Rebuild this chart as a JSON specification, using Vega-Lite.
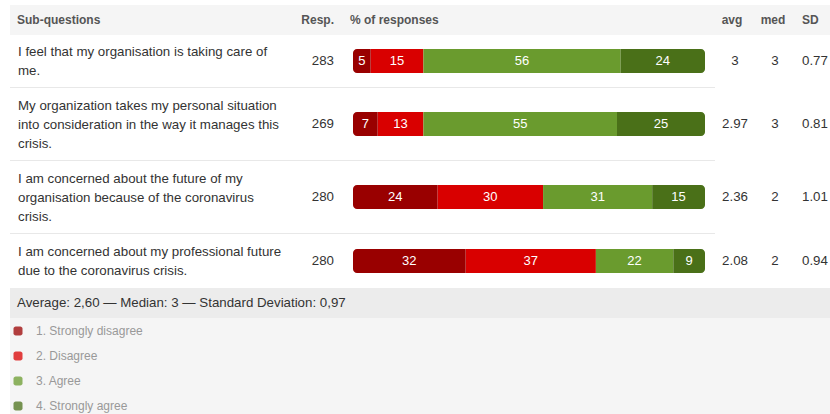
{
  "$schema": "https://vega.github.io/schema/vega-lite/v6.json",
  "padding": {"left": 10, "top": 5, "right": 0, "bottom": 0},
  "background": "white",
  "spacing": 0,
  "config": {
    "view": {"stroke": null},
    "concat": {"spacing": 0},
    "text": {"font": "Liberation Sans"},
    "legend": {"labelFont": "Liberation Sans"}
  },
  "datasets": {
    "qs": [
      {"id": 1, "q": "I feel that my organisation is taking care of\nme.", "resp": 283, "avg": 3, "med": 3, "sd": 0.77},
      {"id": 2, "q": "My organization takes my personal situation\ninto consideration in the way it manages this\ncrisis.", "resp": 269, "avg": 2.97, "med": 3, "sd": 0.81},
      {"id": 3, "q": "I am concerned about the future of my\norganisation because of the coronavirus\ncrisis.", "resp": 280, "avg": 2.36, "med": 2, "sd": 1.01},
      {"id": 4, "q": "I am concerned about my professional future\ndue to the coronavirus crisis.", "resp": 280, "avg": 2.08, "med": 2, "sd": 0.94}
    ],
    "parts": [
      {"id": 1, "cat": "1. Strongly disagree", "v": 5},
      {"id": 1, "cat": "2. Disagree", "v": 15},
      {"id": 1, "cat": "3. Agree", "v": 56},
      {"id": 1, "cat": "4. Strongly agree", "v": 24},
      {"id": 2, "cat": "1. Strongly disagree", "v": 7},
      {"id": 2, "cat": "2. Disagree", "v": 13},
      {"id": 2, "cat": "3. Agree", "v": 55},
      {"id": 2, "cat": "4. Strongly agree", "v": 25},
      {"id": 3, "cat": "1. Strongly disagree", "v": 24},
      {"id": 3, "cat": "2. Disagree", "v": 30},
      {"id": 3, "cat": "3. Agree", "v": 31},
      {"id": 3, "cat": "4. Strongly agree", "v": 15},
      {"id": 4, "cat": "1. Strongly disagree", "v": 32},
      {"id": 4, "cat": "2. Disagree", "v": 37},
      {"id": 4, "cat": "3. Agree", "v": 22},
      {"id": 4, "cat": "4. Strongly agree", "v": 9}
    ]
  },
  "vconcat": [
    {"spacing": 0, "hconcat": [
      {"width": 280, "height": 30, "view": {"fill": "#f5f5f5"}, "data": {"values": [{"h": "Sub-questions"}]},
       "mark": {"type": "text", "align": "left", "dx": 7, "fontSize": 12, "fontWeight": "bold", "color": "#555555"},
       "encoding": {"x": {"field": "h", "type": "nominal", "axis": null, "bandPosition": 0, "scale": {"type": "band", "paddingInner": 0, "paddingOuter": 0}}, "text": {"field": "h"}}},
      {"width": 53, "height": 30, "view": {"fill": "#f5f5f5"}, "data": {"values": [{"h": "Resp."}]},
       "mark": {"type": "text", "align": "right", "dx": -9, "fontSize": 12, "fontWeight": "bold", "color": "#555555"},
       "encoding": {"x": {"field": "h", "type": "nominal", "axis": null, "bandPosition": 1, "scale": {"type": "band", "paddingInner": 0, "paddingOuter": 0}}, "text": {"field": "h"}}},
      {"width": 372, "height": 30, "view": {"fill": "#f5f5f5"}, "data": {"values": [{"h": "% of responses"}]},
       "mark": {"type": "text", "align": "left", "dx": 7, "fontSize": 12, "fontWeight": "bold", "color": "#555555"},
       "encoding": {"x": {"field": "h", "type": "nominal", "axis": null, "bandPosition": 0, "scale": {"type": "band", "paddingInner": 0, "paddingOuter": 0}}, "text": {"field": "h"}}},
      {"width": 40, "height": 30, "view": {"fill": "#f5f5f5"}, "data": {"values": [{"h": "avg"}]},
       "mark": {"type": "text", "dx": -3, "fontSize": 12, "fontWeight": "bold", "color": "#555555"},
       "encoding": {"text": {"field": "h"}}},
      {"width": 40, "height": 30, "view": {"fill": "#f5f5f5"}, "data": {"values": [{"h": "med"}]},
       "mark": {"type": "text", "dx": -2, "fontSize": 12, "fontWeight": "bold", "color": "#555555"},
       "encoding": {"text": {"field": "h"}}},
      {"width": 35, "height": 30, "view": {"fill": "#f5f5f5"}, "data": {"values": [{"h": "SD"}]},
       "mark": {"type": "text", "align": "left", "dx": 7, "fontSize": 12, "fontWeight": "bold", "color": "#555555"},
       "encoding": {"x": {"field": "h", "type": "nominal", "axis": null, "bandPosition": 0, "scale": {"type": "band", "paddingInner": 0, "paddingOuter": 0}}, "text": {"field": "h"}}}
    ]},
    {"spacing": 0, "hconcat": [
      {"width": 280, "height": 52, "data": {"name": "qs"}, "transform": [{"filter": "datum.id == 1"}],
       "mark": {"type": "text", "clip": true, "align": "left", "dx": 8, "dy": -9, "fontSize": 13.3, "lineHeight": 19, "color": "#333333", "lineBreak": "\n"},
       "encoding": {"x": {"field": "q", "type": "nominal", "axis": null, "bandPosition": 0, "scale": {"type": "band", "paddingInner": 0, "paddingOuter": 0}}, "text": {"field": "q"}}},
      {"width": 53, "height": 52, "data": {"name": "qs"}, "transform": [{"filter": "datum.id == 1"}],
       "mark": {"type": "text", "align": "right", "dx": -9, "fontSize": 13.3, "color": "#333333"},
       "encoding": {"x": {"field": "resp", "type": "nominal", "axis": null, "bandPosition": 1, "scale": {"type": "band", "paddingInner": 0, "paddingOuter": 0}}, "text": {"field": "resp", "type": "nominal"}}},
      {"width": 372, "height": 52, "data": {"name": "parts"},
       "transform": [{"filter": "datum.id == 1"}, {"stack": "v", "groupby": ["id"], "sort": [{"field": "cat", "order": "ascending"}], "as": ["v0", "v1"]}],
       "encoding": {
         "y": {"field": "id", "type": "nominal", "axis": null, "scale": {"type": "band", "paddingInner": 0, "paddingOuter": 0}},
         "color": {"field": "cat", "type": "nominal", "scale": {"domain": ["1. Strongly disagree", "2. Disagree", "3. Agree", "4. Strongly agree"], "range": ["#990000", "#d90000", "#6a9b2e", "#4a7018"]},
                   "legend": {"title": null, "orient": "none", "legendX": 2, "legendY": 320, "padding": 0, "symbolType": "M-1,-0.5A0.5,0.5,0,0,1,-0.5,-1L0.5,-1A0.5,0.5,0,0,1,1,-0.5L1,0.5A0.5,0.5,0,0,1,0.5,1L-0.5,1A0.5,0.5,0,0,1,-1,0.5Z", "symbolSize": 81, "symbolOpacity": 0.75, "symbolStrokeWidth": 0, "labelColor": "#999999", "labelFontSize": 12, "labelOffset": 12, "rowPadding": 13}}},
       "layer": [
         {"transform": [{"filter": "datum.cat == '2. Disagree' || datum.cat == '3. Agree'"}],
          "mark": {"type": "bar", "height": 24},
          "encoding": {"x": {"field": "v0", "type": "quantitative", "axis": null, "scale": {"domain": [0, 100], "nice": false, "padding": 10}}, "x2": {"field": "v1"}}},
         {"transform": [{"filter": "datum.cat == '1. Strongly disagree'"}],
          "mark": {"type": "bar", "height": 24, "cornerRadiusTopLeft": 4, "cornerRadiusBottomLeft": 4},
          "encoding": {"x": {"field": "v0", "type": "quantitative"}, "x2": {"field": "v1"}}},
         {"transform": [{"filter": "datum.cat == '4. Strongly agree'"}],
          "mark": {"type": "bar", "height": 24, "cornerRadiusTopRight": 4, "cornerRadiusBottomRight": 4},
          "encoding": {"x": {"field": "v0", "type": "quantitative"}, "x2": {"field": "v1"}}},
         {"mark": {"type": "text", "fontSize": 13},
          "encoding": {
            "x": {"field": "v", "type": "quantitative", "stack": "zero", "bandPosition": 0.5},
            "detail": {"field": "cat"},
            "order": {"field": "cat"},
            "color": {"value": "#ffffff"},
            "text": {"field": "v", "type": "nominal"}}}
       ]},
      {"width": 40, "height": 52, "data": {"name": "qs"}, "transform": [{"filter": "datum.id == 1"}],
       "mark": {"type": "text", "fontSize": 13.3, "color": "#333333"}, "encoding": {"text": {"field": "avg", "type": "nominal"}}},
      {"width": 40, "height": 52, "data": {"name": "qs"}, "transform": [{"filter": "datum.id == 1"}],
       "mark": {"type": "text", "fontSize": 13.3, "color": "#333333"}, "encoding": {"text": {"field": "med", "type": "nominal"}}},
      {"width": 35, "height": 52, "data": {"name": "qs"}, "transform": [{"filter": "datum.id == 1"}],
       "mark": {"type": "text", "align": "left", "dx": 7, "fontSize": 13.3, "color": "#333333"},
       "encoding": {"x": {"field": "sd", "type": "nominal", "axis": null, "bandPosition": 0, "scale": {"type": "band", "paddingInner": 0, "paddingOuter": 0}}, "text": {"field": "sd", "type": "nominal"}}}
    ]},
    {"width": 705, "height": 1, "view": {"fill": "#e8e8e8"}, "data": {"values": [{}]}, "mark": {"type": "text", "fontSize": 0}, "encoding": {"text": {"value": ""}}},
    {"spacing": 0, "hconcat": [
      {"width": 280, "height": 72, "data": {"name": "qs"}, "transform": [{"filter": "datum.id == 2"}],
       "mark": {"type": "text", "clip": true, "align": "left", "dx": 8, "dy": -18.5, "fontSize": 13.3, "lineHeight": 19, "color": "#333333", "lineBreak": "\n"},
       "encoding": {"x": {"field": "q", "type": "nominal", "axis": null, "bandPosition": 0, "scale": {"type": "band", "paddingInner": 0, "paddingOuter": 0}}, "text": {"field": "q"}}},
      {"width": 53, "height": 72, "data": {"name": "qs"}, "transform": [{"filter": "datum.id == 2"}],
       "mark": {"type": "text", "align": "right", "dx": -9, "fontSize": 13.3, "color": "#333333"},
       "encoding": {"x": {"field": "resp", "type": "nominal", "axis": null, "bandPosition": 1, "scale": {"type": "band", "paddingInner": 0, "paddingOuter": 0}}, "text": {"field": "resp", "type": "nominal"}}},
      {"width": 372, "height": 72, "data": {"name": "parts"},
       "transform": [{"filter": "datum.id == 2"}, {"stack": "v", "groupby": ["id"], "sort": [{"field": "cat", "order": "ascending"}], "as": ["v0", "v1"]}],
       "encoding": {
         "y": {"field": "id", "type": "nominal", "axis": null, "scale": {"type": "band", "paddingInner": 0, "paddingOuter": 0}},
         "color": {"field": "cat", "type": "nominal", "scale": {"domain": ["1. Strongly disagree", "2. Disagree", "3. Agree", "4. Strongly agree"], "range": ["#990000", "#d90000", "#6a9b2e", "#4a7018"]},
                   "legend": {"title": null, "orient": "none", "legendX": 2, "legendY": 320, "padding": 0, "symbolType": "M-1,-0.5A0.5,0.5,0,0,1,-0.5,-1L0.5,-1A0.5,0.5,0,0,1,1,-0.5L1,0.5A0.5,0.5,0,0,1,0.5,1L-0.5,1A0.5,0.5,0,0,1,-1,0.5Z", "symbolSize": 81, "symbolOpacity": 0.75, "symbolStrokeWidth": 0, "labelColor": "#999999", "labelFontSize": 12, "labelOffset": 12, "rowPadding": 13}}},
       "layer": [
         {"transform": [{"filter": "datum.cat == '2. Disagree' || datum.cat == '3. Agree'"}],
          "mark": {"type": "bar", "height": 24},
          "encoding": {"x": {"field": "v0", "type": "quantitative", "axis": null, "scale": {"domain": [0, 100], "nice": false, "padding": 10}}, "x2": {"field": "v1"}}},
         {"transform": [{"filter": "datum.cat == '1. Strongly disagree'"}],
          "mark": {"type": "bar", "height": 24, "cornerRadiusTopLeft": 4, "cornerRadiusBottomLeft": 4},
          "encoding": {"x": {"field": "v0", "type": "quantitative"}, "x2": {"field": "v1"}}},
         {"transform": [{"filter": "datum.cat == '4. Strongly agree'"}],
          "mark": {"type": "bar", "height": 24, "cornerRadiusTopRight": 4, "cornerRadiusBottomRight": 4},
          "encoding": {"x": {"field": "v0", "type": "quantitative"}, "x2": {"field": "v1"}}},
         {"mark": {"type": "text", "fontSize": 13},
          "encoding": {
            "x": {"field": "v", "type": "quantitative", "stack": "zero", "bandPosition": 0.5},
            "detail": {"field": "cat"},
            "order": {"field": "cat"},
            "color": {"value": "#ffffff"},
            "text": {"field": "v", "type": "nominal"}}}
       ]},
      {"width": 40, "height": 72, "data": {"name": "qs"}, "transform": [{"filter": "datum.id == 2"}],
       "mark": {"type": "text", "fontSize": 13.3, "color": "#333333"}, "encoding": {"text": {"field": "avg", "type": "nominal"}}},
      {"width": 40, "height": 72, "data": {"name": "qs"}, "transform": [{"filter": "datum.id == 2"}],
       "mark": {"type": "text", "fontSize": 13.3, "color": "#333333"}, "encoding": {"text": {"field": "med", "type": "nominal"}}},
      {"width": 35, "height": 72, "data": {"name": "qs"}, "transform": [{"filter": "datum.id == 2"}],
       "mark": {"type": "text", "align": "left", "dx": 7, "fontSize": 13.3, "color": "#333333"},
       "encoding": {"x": {"field": "sd", "type": "nominal", "axis": null, "bandPosition": 0, "scale": {"type": "band", "paddingInner": 0, "paddingOuter": 0}}, "text": {"field": "sd", "type": "nominal"}}}
    ]},
    {"width": 705, "height": 1, "view": {"fill": "#e8e8e8"}, "data": {"values": [{}]}, "mark": {"type": "text", "fontSize": 0}, "encoding": {"text": {"value": ""}}},
    {"spacing": 0, "hconcat": [
      {"width": 280, "height": 72, "data": {"name": "qs"}, "transform": [{"filter": "datum.id == 3"}],
       "mark": {"type": "text", "clip": true, "align": "left", "dx": 8, "dy": -18.5, "fontSize": 13.3, "lineHeight": 19, "color": "#333333", "lineBreak": "\n"},
       "encoding": {"x": {"field": "q", "type": "nominal", "axis": null, "bandPosition": 0, "scale": {"type": "band", "paddingInner": 0, "paddingOuter": 0}}, "text": {"field": "q"}}},
      {"width": 53, "height": 72, "data": {"name": "qs"}, "transform": [{"filter": "datum.id == 3"}],
       "mark": {"type": "text", "align": "right", "dx": -9, "fontSize": 13.3, "color": "#333333"},
       "encoding": {"x": {"field": "resp", "type": "nominal", "axis": null, "bandPosition": 1, "scale": {"type": "band", "paddingInner": 0, "paddingOuter": 0}}, "text": {"field": "resp", "type": "nominal"}}},
      {"width": 372, "height": 72, "data": {"name": "parts"},
       "transform": [{"filter": "datum.id == 3"}, {"stack": "v", "groupby": ["id"], "sort": [{"field": "cat", "order": "ascending"}], "as": ["v0", "v1"]}],
       "encoding": {
         "y": {"field": "id", "type": "nominal", "axis": null, "scale": {"type": "band", "paddingInner": 0, "paddingOuter": 0}},
         "color": {"field": "cat", "type": "nominal", "scale": {"domain": ["1. Strongly disagree", "2. Disagree", "3. Agree", "4. Strongly agree"], "range": ["#990000", "#d90000", "#6a9b2e", "#4a7018"]},
                   "legend": {"title": null, "orient": "none", "legendX": 2, "legendY": 320, "padding": 0, "symbolType": "M-1,-0.5A0.5,0.5,0,0,1,-0.5,-1L0.5,-1A0.5,0.5,0,0,1,1,-0.5L1,0.5A0.5,0.5,0,0,1,0.5,1L-0.5,1A0.5,0.5,0,0,1,-1,0.5Z", "symbolSize": 81, "symbolOpacity": 0.75, "symbolStrokeWidth": 0, "labelColor": "#999999", "labelFontSize": 12, "labelOffset": 12, "rowPadding": 13}}},
       "layer": [
         {"transform": [{"filter": "datum.cat == '2. Disagree' || datum.cat == '3. Agree'"}],
          "mark": {"type": "bar", "height": 24},
          "encoding": {"x": {"field": "v0", "type": "quantitative", "axis": null, "scale": {"domain": [0, 100], "nice": false, "padding": 10}}, "x2": {"field": "v1"}}},
         {"transform": [{"filter": "datum.cat == '1. Strongly disagree'"}],
          "mark": {"type": "bar", "height": 24, "cornerRadiusTopLeft": 4, "cornerRadiusBottomLeft": 4},
          "encoding": {"x": {"field": "v0", "type": "quantitative"}, "x2": {"field": "v1"}}},
         {"transform": [{"filter": "datum.cat == '4. Strongly agree'"}],
          "mark": {"type": "bar", "height": 24, "cornerRadiusTopRight": 4, "cornerRadiusBottomRight": 4},
          "encoding": {"x": {"field": "v0", "type": "quantitative"}, "x2": {"field": "v1"}}},
         {"mark": {"type": "text", "fontSize": 13},
          "encoding": {
            "x": {"field": "v", "type": "quantitative", "stack": "zero", "bandPosition": 0.5},
            "detail": {"field": "cat"},
            "order": {"field": "cat"},
            "color": {"value": "#ffffff"},
            "text": {"field": "v", "type": "nominal"}}}
       ]},
      {"width": 40, "height": 72, "data": {"name": "qs"}, "transform": [{"filter": "datum.id == 3"}],
       "mark": {"type": "text", "fontSize": 13.3, "color": "#333333"}, "encoding": {"text": {"field": "avg", "type": "nominal"}}},
      {"width": 40, "height": 72, "data": {"name": "qs"}, "transform": [{"filter": "datum.id == 3"}],
       "mark": {"type": "text", "fontSize": 13.3, "color": "#333333"}, "encoding": {"text": {"field": "med", "type": "nominal"}}},
      {"width": 35, "height": 72, "data": {"name": "qs"}, "transform": [{"filter": "datum.id == 3"}],
       "mark": {"type": "text", "align": "left", "dx": 7, "fontSize": 13.3, "color": "#333333"},
       "encoding": {"x": {"field": "sd", "type": "nominal", "axis": null, "bandPosition": 0, "scale": {"type": "band", "paddingInner": 0, "paddingOuter": 0}}, "text": {"field": "sd", "type": "nominal"}}}
    ]},
    {"width": 705, "height": 1, "view": {"fill": "#e8e8e8"}, "data": {"values": [{}]}, "mark": {"type": "text", "fontSize": 0}, "encoding": {"text": {"value": ""}}},
    {"spacing": 0, "hconcat": [
      {"width": 280, "height": 54, "data": {"name": "qs"}, "transform": [{"filter": "datum.id == 4"}],
       "mark": {"type": "text", "clip": true, "align": "left", "dx": 8, "dy": -9, "fontSize": 13.3, "lineHeight": 19, "color": "#333333", "lineBreak": "\n"},
       "encoding": {"x": {"field": "q", "type": "nominal", "axis": null, "bandPosition": 0, "scale": {"type": "band", "paddingInner": 0, "paddingOuter": 0}}, "text": {"field": "q"}}},
      {"width": 53, "height": 54, "data": {"name": "qs"}, "transform": [{"filter": "datum.id == 4"}],
       "mark": {"type": "text", "align": "right", "dx": -9, "fontSize": 13.3, "color": "#333333"},
       "encoding": {"x": {"field": "resp", "type": "nominal", "axis": null, "bandPosition": 1, "scale": {"type": "band", "paddingInner": 0, "paddingOuter": 0}}, "text": {"field": "resp", "type": "nominal"}}},
      {"width": 372, "height": 54, "data": {"name": "parts"},
       "transform": [{"filter": "datum.id == 4"}, {"stack": "v", "groupby": ["id"], "sort": [{"field": "cat", "order": "ascending"}], "as": ["v0", "v1"]}],
       "encoding": {
         "y": {"field": "id", "type": "nominal", "axis": null, "scale": {"type": "band", "paddingInner": 0, "paddingOuter": 0}},
         "color": {"field": "cat", "type": "nominal", "scale": {"domain": ["1. Strongly disagree", "2. Disagree", "3. Agree", "4. Strongly agree"], "range": ["#990000", "#d90000", "#6a9b2e", "#4a7018"]},
                   "legend": {"title": null, "orient": "none", "legendX": 2, "legendY": 320, "padding": 0, "symbolType": "M-1,-0.5A0.5,0.5,0,0,1,-0.5,-1L0.5,-1A0.5,0.5,0,0,1,1,-0.5L1,0.5A0.5,0.5,0,0,1,0.5,1L-0.5,1A0.5,0.5,0,0,1,-1,0.5Z", "symbolSize": 81, "symbolOpacity": 0.75, "symbolStrokeWidth": 0, "labelColor": "#999999", "labelFontSize": 12, "labelOffset": 12, "rowPadding": 13}}},
       "layer": [
         {"transform": [{"filter": "datum.cat == '2. Disagree' || datum.cat == '3. Agree'"}],
          "mark": {"type": "bar", "height": 24},
          "encoding": {"x": {"field": "v0", "type": "quantitative", "axis": null, "scale": {"domain": [0, 100], "nice": false, "padding": 10}}, "x2": {"field": "v1"}}},
         {"transform": [{"filter": "datum.cat == '1. Strongly disagree'"}],
          "mark": {"type": "bar", "height": 24, "cornerRadiusTopLeft": 4, "cornerRadiusBottomLeft": 4},
          "encoding": {"x": {"field": "v0", "type": "quantitative"}, "x2": {"field": "v1"}}},
         {"transform": [{"filter": "datum.cat == '4. Strongly agree'"}],
          "mark": {"type": "bar", "height": 24, "cornerRadiusTopRight": 4, "cornerRadiusBottomRight": 4},
          "encoding": {"x": {"field": "v0", "type": "quantitative"}, "x2": {"field": "v1"}}},
         {"mark": {"type": "text", "fontSize": 13},
          "encoding": {
            "x": {"field": "v", "type": "quantitative", "stack": "zero", "bandPosition": 0.5},
            "detail": {"field": "cat"},
            "order": {"field": "cat"},
            "color": {"value": "#ffffff"},
            "text": {"field": "v", "type": "nominal"}}}
       ]},
      {"width": 40, "height": 54, "data": {"name": "qs"}, "transform": [{"filter": "datum.id == 4"}],
       "mark": {"type": "text", "fontSize": 13.3, "color": "#333333"}, "encoding": {"text": {"field": "avg", "type": "nominal"}}},
      {"width": 40, "height": 54, "data": {"name": "qs"}, "transform": [{"filter": "datum.id == 4"}],
       "mark": {"type": "text", "fontSize": 13.3, "color": "#333333"}, "encoding": {"text": {"field": "med", "type": "nominal"}}},
      {"width": 35, "height": 54, "data": {"name": "qs"}, "transform": [{"filter": "datum.id == 4"}],
       "mark": {"type": "text", "align": "left", "dx": 7, "fontSize": 13.3, "color": "#333333"},
       "encoding": {"x": {"field": "sd", "type": "nominal", "axis": null, "bandPosition": 0, "scale": {"type": "band", "paddingInner": 0, "paddingOuter": 0}}, "text": {"field": "sd", "type": "nominal"}}}
    ]},
    {"width": 820, "height": 30, "view": {"fill": "#ececec"}, "data": {"values": [{"t": "Average: 2,60 — Median: 3 — Standard Deviation: 0,97"}]},
     "mark": {"type": "text", "align": "left", "dx": 7, "fontSize": 13.3, "color": "#333333"},
     "encoding": {"x": {"field": "t", "type": "nominal", "axis": null, "bandPosition": 0, "scale": {"type": "band", "paddingInner": 0, "paddingOuter": 0}}, "text": {"field": "t"}}},
    {"width": 820, "height": 96, "view": {"fill": "#f5f5f5"}, "data": {"values": [{}]}, "mark": {"type": "text", "fontSize": 0}, "encoding": {"text": {"value": ""}}}
  ]
}
